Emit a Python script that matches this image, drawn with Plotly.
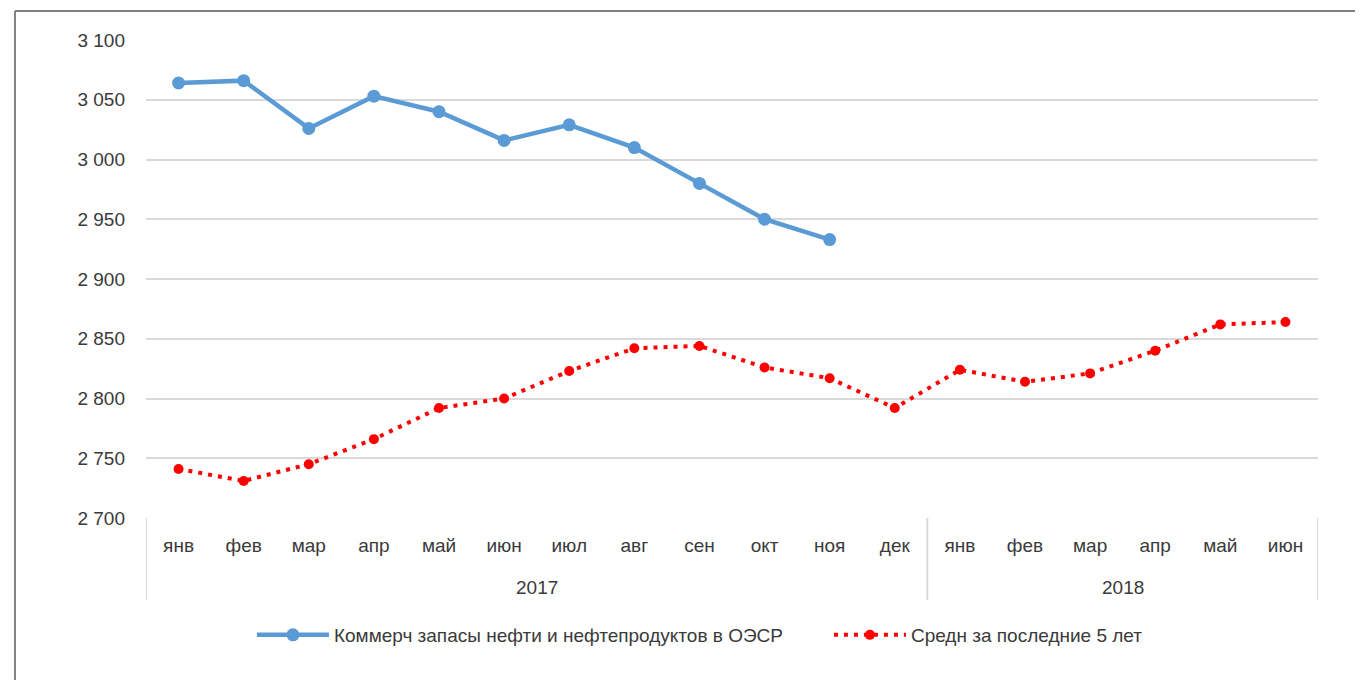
import plotly.graph_objects as go

months = ["янв", "фев", "мар", "апр", "май", "июн", "июл", "авг", "сен", "окт", "ноя", "дек",
          "янв", "фев", "мар", "апр", "май", "июн"]
years = ["2017", "2018"]
year_len = [12, 6]

# коммерческие запасы ОЭСР, млн барр (до ноя 2017)
stocks = [3064, 3066, 3026, 3053, 3040, 3016, 3029, 3010, 2980, 2950, 2933]
# среднее за последние 5 лет
avg5 = [2741, 2731, 2745, 2766, 2792, 2800, 2823, 2842, 2844, 2826, 2817, 2792,
        2824, 2814, 2821, 2840, 2862, 2864]

yticks = [2700, 2750, 2800, 2850, 2900, 2950, 3000, 3050, 3100]
ylabels = ["2 700", "2 750", "2 800", "2 850", "2 900", "2 950", "3 000", "3 050", "3 100"]

font = "Liberation Sans, Arial, sans-serif"
txt = "#3a3a3a"
grid = "#d9d9d9"

idx = list(range(len(months)))

fig = go.Figure()
fig.add_trace(go.Scatter(
    x=idx[:len(stocks)], y=stocks,
    name="Коммерч запасы нефти и нефтепродуктов в ОЭСР",
    mode="lines+markers",
    line=dict(color="#5B9BD5", width=4.5),
    marker=dict(size=13, color="#5B9BD5"),
))
fig.add_trace(go.Scatter(
    x=idx, y=avg5,
    name="Средн за последние 5 лет",
    mode="lines+markers",
    line=dict(color="#FF0000", width=4, dash="4px,6px"),
    marker=dict(size=10, color="#FF0000"),
))

# year labels and group dividers under the axis
shapes = []
annotations = []
start = 0
bounds = [-0.5]
for yr, n in zip(years, year_len):
    annotations.append(dict(x=start + (n - 1) / 2, y=-0.1444, xref="x", yref="paper",
                            text=yr, showarrow=False, yanchor="middle",
                            font=dict(size=19, color=txt)))
    start += n
    bounds.append(start - 0.5)
for b in bounds:
    shapes.append(dict(type="line", xref="x", yref="paper", x0=b, x1=b, y0=0, y1=-0.1715,
                       line=dict(color=grid, width=2)))

# frame (top and left edges visible)
shapes.append(dict(type="line", xref="paper", yref="paper", x0=-0.1118, x1=1.06,
                   y0=1.0607, y1=1.0607, line=dict(color="#808080", width=2)))
shapes.append(dict(type="line", xref="paper", yref="paper", x0=-0.1118, x1=-0.1118,
                   y0=1.0607, y1=-0.36, line=dict(color="#808080", width=2)))

fig.update_layout(
    width=1363, height=680,
    margin=dict(l=138, r=53, t=32, b=170, autoexpand=False),
    plot_bgcolor="white", paper_bgcolor="white",
    font=dict(family=font, size=19, color=txt),
    showlegend=True,
    legend=dict(orientation="h", xref="container", x=0.6023, xanchor="center",
                y=-0.2448, yanchor="middle",
                font=dict(size=19, color=txt), itemwidth=72,
                entrywidth=490, entrywidthmode="pixels"),
    xaxis=dict(range=[-0.5, len(months) - 0.5], tickvals=idx, ticktext=months,
               showgrid=False, showline=False, zeroline=False, ticks="",
               ticklabelstandoff=14, tickfont=dict(size=19, color=txt)),
    yaxis=dict(range=[2700, 3100], tickvals=yticks, ticktext=ylabels,
               showgrid=True, gridcolor=grid, gridwidth=2,
               zeroline=False, showline=False, ticks="", ticklabelstandoff=20,
               tickfont=dict(size=19, color=txt)),
    shapes=shapes,
    annotations=annotations,
)

fig.write_html("out.html")
